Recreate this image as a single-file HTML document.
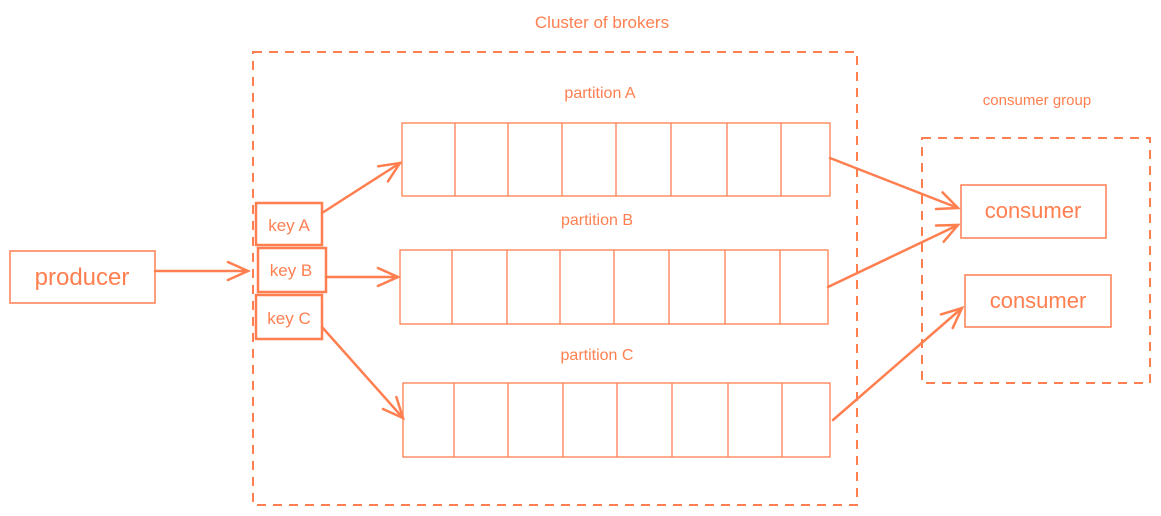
<!DOCTYPE html>
<html><head><meta charset="utf-8"><style>
html,body{margin:0;padding:0;background:#fff;width:1161px;height:516px;overflow:hidden}
svg{display:block}
text{font-family:"Liberation Sans",sans-serif;fill:#ff7f50}
</style></head><body>
<svg width="1161" height="516" viewBox="0 0 1161 516">
<g stroke="#ff7f50" fill="none" stroke-width="2">
<rect x="253" y="52" width="604" height="453" stroke-dasharray="9,7"/>
<rect x="922" y="138" width="228" height="245" stroke-dasharray="9,7"/>
</g>
<text x="602" y="28" font-size="17" text-anchor="middle">Cluster of brokers</text>
<text x="1037" y="105" font-size="15" text-anchor="middle">consumer group</text>
<text x="600" y="98" font-size="16" text-anchor="middle">partition A</text>
<text x="597" y="225" font-size="16" text-anchor="middle">partition B</text>
<text x="597" y="360" font-size="16" text-anchor="middle">partition C</text>
<g id="parts" stroke="#ff7f50" fill="none" stroke-width="1.3"></g>
<g stroke="#ff7f50" fill="#fff" stroke-width="2.5">
<rect x="10" y="251" width="145" height="52" stroke-width="1.5"/>
<rect x="961" y="185" width="145" height="53" stroke-width="1.5"/>
<rect x="965" y="275" width="146" height="52" stroke-width="1.5"/>
<rect x="256" y="203" width="66" height="42"/>
<rect x="258" y="248" width="68" height="44"/>
<rect x="256" y="295" width="66" height="44"/>
</g>
<text x="82" y="285" font-size="24" text-anchor="middle">producer</text>
<text x="1033" y="218" font-size="22" text-anchor="middle">consumer</text>
<text x="1038" y="308" font-size="22" text-anchor="middle">consumer</text>
<text x="289" y="231" font-size="17" text-anchor="middle">key A</text>
<text x="291" y="276" font-size="17" text-anchor="middle">key B</text>
<text x="289" y="324" font-size="17" text-anchor="middle">key C</text>
<g id="arrows" stroke="#ff7f50" fill="none" stroke-width="2.5" stroke-linecap="round"></g>
</svg>
<script>
const NS='http://www.w3.org/2000/svg';
const parts=[[402,123,830,196,[455,508,562,616,671,727,781]],[400,250,828,324,[452,507,560,614,669,725,780]],[403,383,830,457,[454,508,563,617,672,728,782]]];
const pg=document.getElementById('parts');
parts.forEach((p,i)=>{
  const r=document.createElementNS(NS,'rect');
  r.setAttribute('x',p[0]);r.setAttribute('y',p[1]);r.setAttribute('width',p[2]-p[0]);r.setAttribute('height',p[3]-p[1]);
  
  
  pg.appendChild(r);
  p[4].forEach(x=>{const l=document.createElementNS(NS,'line');
    l.setAttribute('x1',x);l.setAttribute('x2',x);l.setAttribute('y1',p[1]);l.setAttribute('y2',p[3]);
    
    
    pg.appendChild(l);});
});
const arrows=[[155,271,248,271],[322,213,400,163],[326,277,398,277],[322,327,403,418],[830,158,958,208],[828,287,958,225],[833,420,962,308]];
const ag=document.getElementById('arrows');
arrows.forEach(a=>{
  const [x1,y1,x2,y2]=a;const ang=Math.atan2(y2-y1,x2-x1);const h=22,s=0.42;
  const p=document.createElementNS(NS,'path');
  const ax=x2-h*Math.cos(ang-s),ay=y2-h*Math.sin(ang-s),bx=x2-h*Math.cos(ang+s),by=y2-h*Math.sin(ang+s);
  p.setAttribute('d',`M${x1} ${y1}L${x2} ${y2}M${ax} ${ay}L${x2} ${y2}L${bx} ${by}`);
  
  
  ag.appendChild(p);
});
</script>
</body></html>
